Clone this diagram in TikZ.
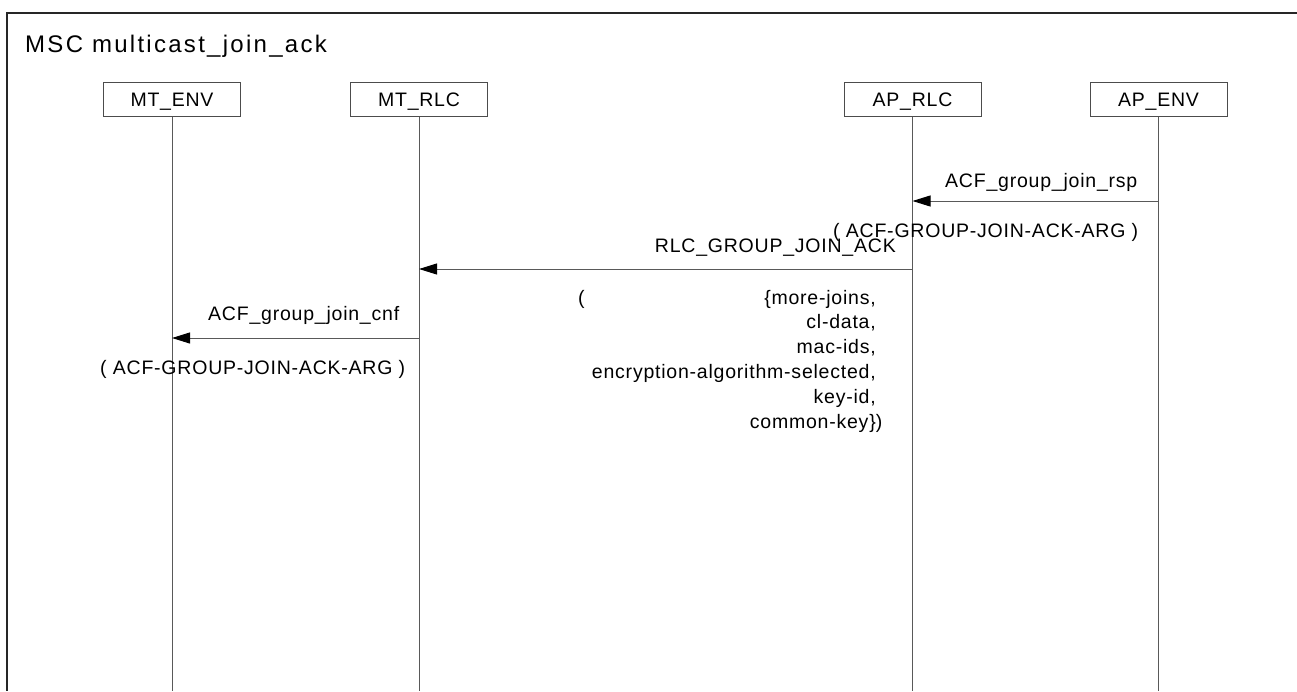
\documentclass[tikz,border=0pt]{standalone}
\usepackage{fontspec}
\setmainfont{Liberation Sans}
\newfontfamily\lblfont[LetterSpace=4]{Liberation Sans}
\newfontfamily\ttlfont[LetterSpace=9.5]{Liberation Sans}
\usetikzlibrary{arrows.meta}

\begin{document}
\begin{tikzpicture}[x=1pt,y=-1pt,
  lbl/.style={font=\lblfont\fontsize{19.5}{24.5}\selectfont, inner sep=0pt},
  lifebox/.style={draw=black!70, line width=1pt, minimum width=137pt, minimum height=34pt,
    inner sep=0pt, text height=14pt, text depth=0pt, font=\lblfont\fontsize{19.5}{24.5}\selectfont},
  life/.style={draw=black!65, line width=1pt},
  msg/.style={draw=black!65, line width=1pt, -{Triangle[length=18pt,width=11pt,color=black]}},
  frame/.style={draw=black!85, line width=1.5pt},
]
\useasboundingbox (0,0) rectangle (1297,691);

% frame
\coordinate (frTR) at (1297,13);
\coordinate (frTL) at (7,13);
\coordinate (frBL) at (7,691);
\draw[frame] (frTR) -- (frTL) -- (frBL);

\node[inner sep=0pt, anchor=base west, font=\ttlfont\fontsize{24}{28}\selectfont] (title) at (25,52) {MSC multicast\_join\_ack};

% instances
\node[lifebox] (mtenv) at (172,99) {MT\_ENV};
\node[lifebox] (mtrlc) at (419,99) {MT\_RLC};
\node[lifebox] (aprlc) at (912.5,99) {AP\_RLC};
\node[lifebox] (apenv) at (1158.5,99) {AP\_ENV};

\coordinate (mtenvE) at (172,691);
\coordinate (mtrlcE) at (419,691);
\coordinate (aprlcE) at (912.5,691);
\coordinate (apenvE) at (1158.5,691);

\draw[life] (mtenv.south) -- (mtenvE);
\draw[life] (mtrlc.south) -- (mtrlcE);
\draw[life] (aprlc.south) -- (aprlcE);
\draw[life] (apenv.south) -- (apenvE);

% message 1
\coordinate (m1s) at (1158.5,201);
\coordinate (m1e) at (912.5,201);
\draw[msg] (m1s) -- (m1e);
\node[lbl, anchor=base west] (m1lbl) at (945,187) {ACF\_group\_join\_rsp};
\node[lbl, anchor=base west] (m1par) at (833,237) {( ACF-GROUP-JOIN-ACK-ARG )};

% message 2
\coordinate (m2s) at (912.5,269);
\coordinate (m2e) at (419,269);
\draw[msg] (m2s) -- (m2e);
\node[lbl, anchor=base east] (m2lbl) at (896,252) {RLC\_GROUP\_JOIN\_ACK};
\node[lbl, anchor=base west] (m2open) at (578,304) {(};
\node[lbl, anchor=base east] (m2p1) at (876,304) {\{more-joins,};
\node[lbl, anchor=base east] (m2p2) at (876,328.8) {cl-data,};
\node[lbl, anchor=base east] (m2p3) at (876,353.6) {mac-ids,};
\node[lbl, anchor=base east] (m2p4) at (876,378.4) {encryption-algorithm-selected,};
\node[lbl, anchor=base east] (m2p5) at (876,403.2) {key-id,};
\node[lbl, anchor=base east] (m2p6) at (876,428) {common-key\}\rlap{)}};

% message 3
\coordinate (m3s) at (419,338);
\coordinate (m3e) at (172,338);
\draw[msg] (m3s) -- (m3e);
\node[lbl, anchor=base west] (m3lbl) at (208,320) {ACF\_group\_join\_cnf};
\node[lbl, anchor=base west] (m3par) at (100,374) {( ACF-GROUP-JOIN-ACK-ARG )};
\end{tikzpicture}
\end{document}
